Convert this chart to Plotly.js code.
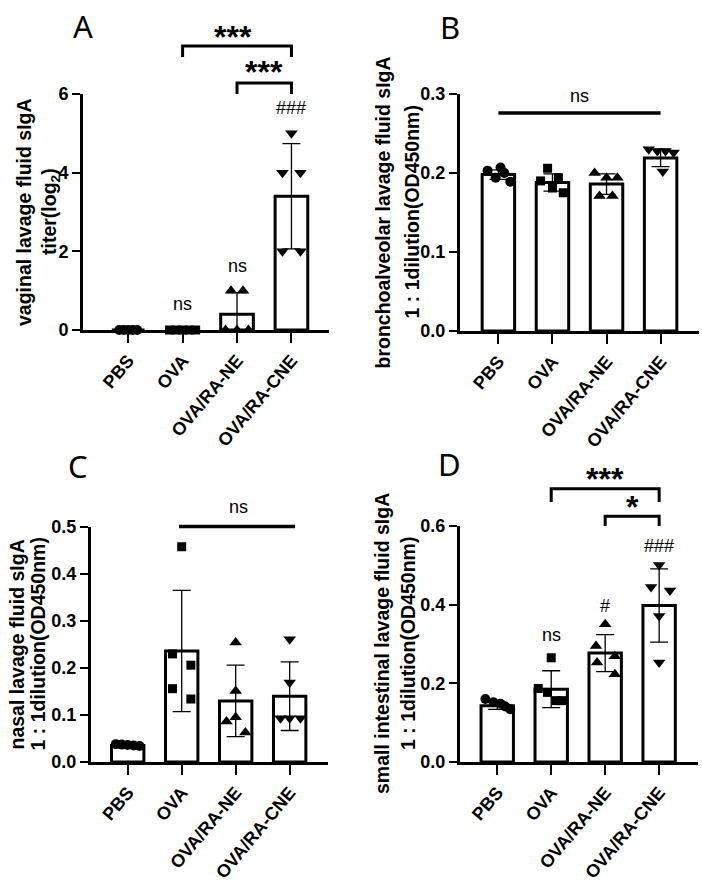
<!DOCTYPE html>
<html><head><meta charset="utf-8">
<script src="https://cdn.plot.ly/plotly-3.0.1.min.js"></script>
<style>body{margin:0;background:#fff}#chart{width:702px;height:882px}</style>
</head><body><div id="chart"></div>
<script>
// ---------- DATA ----------
const categories = ['PBS', 'OVA', 'OVA/RA-NE', 'OVA/RA-CNE'];

// A: vaginal lavage fluid sIgA titer (log2)
const vaginalMean = [0, 0, 0.4, 3.4];
const vaginalSD = [0, 0, 0.55, 1.34];
const vaginalPoints = [[0, 0, 0, 0, 0], [0, 0, 0, 0, 0], [1, 1, 0, 0, 0], [5, 4, 4, 2, 2]];

// B: bronchoalveolar lavage fluid sIgA (OD450)
const bronchoMean = [0.198, 0.188, 0.186, 0.219];
const bronchoSD = [0.006, 0.011, 0.013, 0.011];
const bronchoPoints = [[0.207, 0.203, 0.200, 0.194, 0.189], [0.206, 0.190, 0.194, 0.181, 0.175],
                       [0.200, 0.194, 0.194, 0.171, 0.171], [0.230, 0.228, 0.228, 0.226, 0.202]];

// C: nasal lavage fluid sIgA (OD450)
const nasalMean = [0.035, 0.236, 0.130, 0.140];
const nasalSD = [0.002, 0.129, 0.076, 0.073];
const nasalPoints = [[0.038, 0.037, 0.036, 0.035, 0.034], [0.458, 0.230, 0.206, 0.156, 0.134],
                     [0.254, 0.151, 0.086, 0.095, 0.063], [0.261, 0.169, 0.093, 0.093, 0.093]];

// D: small intestinal lavage fluid sIgA (OD450)
const intestMean = [0.143, 0.185, 0.277, 0.398];
const intestSD = [0.009, 0.047, 0.047, 0.093];
const intestPoints = [[0.160, 0.152, 0.148, 0.141, 0.134], [0.265, 0.187, 0.177, 0.156, 0.156],
                      [0.350, 0.295, 0.269, 0.253, 0.223], [0.501, 0.445, 0.436, 0.371, 0.253]];

// ---------- LAYOUT / STYLE (horizontal spread of dots, in category units) ----------
const jitterA = [[-0.165, -0.082, 0, 0.082, 0.165], [-0.24, -0.12, 0, 0.12, 0.24], [-0.11, 0.11, -0.21, 0, 0.21], [0, -0.165, 0.165, -0.165, 0.165]];
const jitterB = [[0.04, -0.2, 0.11, -0.05, 0.22], [-0.09, -0.22, 0.11, 0, 0.2], [-0.22, 0, 0.2, -0.13, 0.11], [-0.22, -0.06, 0.09, 0.24, 0.04]];
const jitterC = [[-0.22, -0.11, 0, 0.11, 0.22], [0, -0.17, 0.17, -0.17, 0.17], [0, 0, -0.17, 0, 0.18], [0, 0, -0.17, 0, 0.2]];
const jitterD = [[-0.22, -0.07, 0.06, 0.15, 0.24], [0, -0.24, -0.07, 0.09, 0.2], [0, -0.17, 0.18, -0.15, 0.18], [0, -0.15, 0.2, 0, 0]];

const symbols = ['circle', 'square', 'triangle-up', 'triangle-down'];
const symSize = [10, 9, 11, 11];
const FONT = 'Liberation Sans, Arial, sans-serif';
const W = 702, H = 882;

const panels = [
  {letter: 'A', lx: 83, ly: 26, left: 83, right: 329, top: 94, bottom: 330, xr: [-0.83, 3.69], ymax: 6,
   tickvals: [0, 2, 4, 6], fmt: 'd', mean: vaginalMean, sd: vaginalSD, pts: vaginalPoints, jit: jitterA,
   title: ['vaginal lavage fluid sIgA', 'titer(log<sub>2</sub>)'], tx: [24, 51],
   brackets: [[1, 3, 7.22, 6.94], [2, 3, 6.28, 6.0]],
   texts: [['***', 1.92, 7.45, 'star'], ['***', 2.5, 6.56, 'star'], ['###', 3, 5.65, 'hash'], ['ns', 2, 1.63, 'ns'], ['ns', 1, 0.67, 'ns']],
   lines: []},
  {letter: 'B', lx: 450, ly: 27, left: 460, right: 699, top: 94, bottom: 331, xr: [-0.71, 3.71], ymax: 0.3,
   tickvals: [0, 0.1, 0.2, 0.3], fmt: '.1f', mean: bronchoMean, sd: bronchoSD, pts: bronchoPoints, jit: jitterB,
   title: ['bronchoalveolar lavage fluid sIgA', '1 : 1dilution(OD450nm)'], tx: [382, 411],
   brackets: [], texts: [['ns', 1.5, 0.298, 'ns']], lines: [[0, 3, 0.276]]},
  {letter: 'C', lx: 78, ly: 466, left: 91, right: 328, top: 527, bottom: 762, xr: [-0.68, 3.71], ymax: 0.5,
   tickvals: [0, 0.1, 0.2, 0.3, 0.4, 0.5], fmt: '.1f', mean: nasalMean, sd: nasalSD, pts: nasalPoints, jit: jitterC,
   title: ['nasal lavage fluid sIgA', '1 : 1dilution(OD450nm)'], tx: [16, 37],
   brackets: [], texts: [['ns', 2.06, 0.543, 'ns']], lines: [[0.95, 3.1, 0.501]]},
  {letter: 'D', lx: 449, ly: 464, left: 460, right: 698, top: 526, bottom: 762, xr: [-0.69, 3.72], ymax: 0.6,
   tickvals: [0, 0.2, 0.4, 0.6], fmt: '.1f', mean: intestMean, sd: intestSD, pts: intestPoints, jit: jitterD,
   title: ['small intestinal lavage fluid sIgA', '1 : 1dilution(OD450nm)'], tx: [382, 408],
   brackets: [[1, 3, 0.695, 0.661], [2, 3, 0.625, 0.6]],
   texts: [['***', 2, 0.719, 'star'], ['*', 2.5, 0.648, 'star'], ['###', 3, 0.548, 'hash'], ['#', 2, 0.396, 'hash'], ['ns', 1, 0.322, 'ns']],
   lines: []}
];

const traces = [];
const layout = {
  width: W, height: H, margin: {l: 0, r: 0, t: 0, b: 0}, showlegend: false,
  paper_bgcolor: '#fff', plot_bgcolor: 'rgba(0,0,0,0)',
  font: {family: FONT, color: '#000'},
  shapes: [], annotations: []
};

function pxX(p, v) { return p.left + (v - p.xr[0]) / (p.xr[1] - p.xr[0]) * (p.right - p.left); }
function pxY(p, v) { return p.bottom - v / p.ymax * (p.bottom - p.top); }
function paperX(px) { return px / W; }
function paperY(py) { return 1 - py / H; }

const catIdx = categories.map((c, i) => i);

panels.forEach((p, k) => {
  const n = k === 0 ? '' : String(k + 1);
  const xa = 'x' + n, ya = 'y' + n;
  layout['xaxis' + n] = {
    domain: [p.left / W, p.right / W], range: p.xr, anchor: ya,
    tickvals: catIdx, ticktext: categories, tickangle: -50,
    showline: true, linewidth: 3, linecolor: '#000', mirror: false,
    ticks: 'outside', ticklen: 10, tickwidth: 2, tickcolor: '#000',
    showgrid: false, zeroline: false, fixedrange: true,
    tickfont: {family: FONT, size: 18, weight: 'bold', color: '#000'}
  };
  layout['yaxis' + n] = {
    domain: [1 - p.bottom / H, 1 - p.top / H], range: [0, p.ymax], anchor: xa,
    tickvals: p.tickvals, tickformat: p.fmt,
    showline: true, linewidth: 3, linecolor: '#000',
    ticks: 'outside', ticklen: 8, tickwidth: 2, tickcolor: '#000',
    showgrid: false, zeroline: false, fixedrange: true,
    tickfont: {family: FONT, size: 18, weight: 'bold', color: '#000'}
  };
  // bars with SD error bars
  traces.push({
    type: 'bar', x: catIdx, y: p.mean, xaxis: xa, yaxis: ya, width: 0.6,
    marker: {color: '#fff', line: {color: '#000', width: 3}},
    error_y: {type: 'data', array: p.sd, visible: true, color: '#000', thickness: 1.3, width: 9},
    hoverinfo: 'skip'
  });
  // individual points
  p.pts.forEach((vals, g) => {
    traces.push({
      type: 'scatter', mode: 'markers', xaxis: xa, yaxis: ya, cliponaxis: false,
      x: vals.map((v, j) => g + p.jit[g][j]), y: vals,
      marker: {symbol: symbols[g], size: symSize[g], color: '#000', line: {width: 0}},
      hoverinfo: 'skip'
    });
  });
  // significance brackets
  p.brackets.forEach(b => {
    const x1 = paperX(pxX(p, b[0])), x2 = paperX(pxX(p, b[1]));
    const y = paperY(pxY(p, b[2])), yd = paperY(pxY(p, b[3]));
    layout.shapes.push({type: 'path', xref: 'paper', yref: 'paper',
      path: `M${x1},${yd} L${x1},${y} L${x2},${y} L${x2},${yd}`,
      line: {color: '#000', width: 3}});
  });
  p.lines.forEach(l => {
    layout.shapes.push({type: 'line', xref: 'paper', yref: 'paper',
      x0: paperX(pxX(p, l[0])), x1: paperX(pxX(p, l[1])), y0: paperY(pxY(p, l[2])), y1: paperY(pxY(p, l[2])),
      line: {color: '#000', width: 3.5}});
  });
  p.texts.forEach(t => {
    const st = t[3] === 'star' ? {size: 32, weight: 'bold'} : {size: 18, weight: 'normal'};
    layout.annotations.push({text: t[0], xref: 'paper', yref: 'paper',
      x: paperX(pxX(p, t[1])), y: paperY(pxY(p, t[2])), xanchor: 'center', yanchor: 'middle',
      showarrow: false, font: {family: FONT, size: st.size, weight: st.weight, color: '#000'}});
  });
  // panel letter
  layout.annotations.push({text: p.letter, xref: 'paper', yref: 'paper', x: paperX(p.lx), y: paperY(p.ly),
    xanchor: 'center', yanchor: 'middle', showarrow: false,
    font: {family: 'Noto Sans, Open Sans, sans-serif', size: 31, color: '#000'}});
  // axis title (two lines)
  const cy = paperY((p.top + p.bottom) / 2);
  p.title.forEach((line, i) => {
    layout.annotations.push({text: line, xref: 'paper', yref: 'paper', x: paperX(p.tx[i]), y: cy,
      xanchor: 'center', yanchor: 'middle', textangle: -90, showarrow: false,
      font: {family: FONT, size: 19.5, weight: 'bold', color: '#000'}});
  });
});

Plotly.newPlot('chart', traces, layout, {staticPlot: true, displayModeBar: false});
</script>
</body></html>
